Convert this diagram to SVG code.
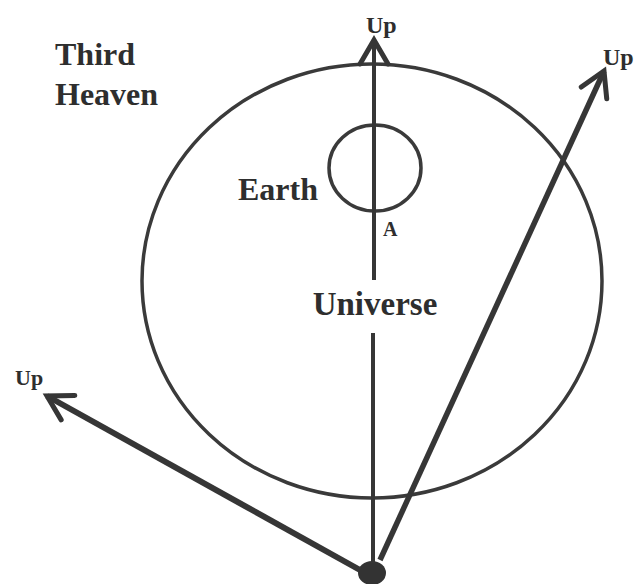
<svg xmlns="http://www.w3.org/2000/svg" width="635" height="584" viewBox="0 0 635 584">
<style>
.bg{fill:#ffffff}
.ring{fill:none;stroke:#3a3a3a;stroke-width:3.5}
.arrow{fill:none;stroke:#363636;stroke-linecap:butt}
.lbl{font-family:"Liberation Serif","Times New Roman",serif;font-weight:bold;fill:#2e2e2e}
</style>
<defs>
<marker id="chev" markerUnits="userSpaceOnUse" markerWidth="60" markerHeight="60" viewBox="-30 -30 60 60" refX="0" refY="0" orient="auto" overflow="visible">
<path d="M -24 -14 L 0 0 L -24 14" fill="none" stroke="#363636" stroke-width="5" stroke-linejoin="miter" stroke-linecap="round"/>
</marker>
</defs>
<rect class="bg" x="0" y="0" width="635" height="584"/>
<g id="universe">
<ellipse class="ring" cx="372" cy="281" rx="230" ry="217"/>
<text class="lbl" x="375" y="315" font-size="33" text-anchor="middle">Universe</text>
</g>
<g id="earth">
<ellipse class="ring" cx="375" cy="168" rx="46" ry="43"/>
<text class="lbl" x="238" y="200" font-size="32">Earth</text>
<text class="lbl" x="383" y="236" font-size="20">A</text>
</g>
<g id="third-heaven">
<text class="lbl" x="55" y="65" font-size="32">Third</text>
<text class="lbl" x="55" y="105" font-size="32">Heaven</text>
</g>
<g id="origin">
<ellipse cx="372" cy="573" rx="14" ry="12" fill="#333333"/>
</g>
<g id="connectors">
<line class="arrow" x1="374" y1="280" x2="374" y2="40" stroke-width="4" marker-end="url(#chev)"/>
<line class="arrow" x1="373" y1="563" x2="373" y2="333" stroke-width="4"/>
<line class="arrow" x1="380" y1="560" x2="604" y2="71" stroke-width="5.5" marker-end="url(#chev)"/>
<line class="arrow" x1="360" y1="570" x2="47" y2="396" stroke-width="6" marker-end="url(#chev)"/>
</g>
<g id="up-labels">
<text class="lbl" x="366" y="33" font-size="24">Up</text>
<text class="lbl" x="603" y="65" font-size="24">Up</text>
<text class="lbl" x="15" y="385" font-size="22">Up</text>
</g>
</svg>
